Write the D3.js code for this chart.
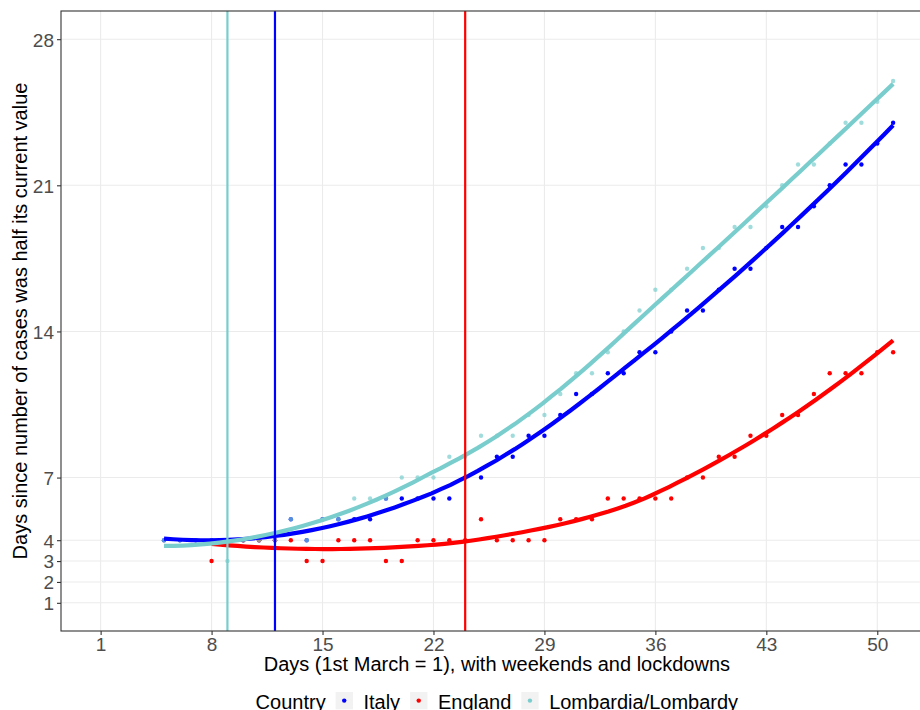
<!DOCTYPE html>
<html>
<head>
<meta charset="utf-8">
<script src="https://cdn.jsdelivr.net/npm/d3@7"></script>
<style>
  body { margin: 0; background: #fff; }
  svg { display: block; font-family: "Liberation Sans", Arial, sans-serif; }
</style>
</head>
<body>
<div id="chart"></div>
<script>
var svgWidth = 920;
var svgHeight = 710;

// panel edges (right edge falls outside the picture, like the original crop)
var margin = { top: 11, left: 61, bottom: 79 };
var panelRight = 932.75;

// Data: days since half value, per day (1st March = 1)
var italyDays = [5,6,7,8,9,10,11,12,13,14,15,16,17,18,19,20,21,22,23,24,25,26,27,28,29,30,31,32,33,34,35,36,37,38,39,40,41,42,43,44,45,46,47,48,49,50,51];
var italyValues = [4,4,4,4,4,4,4,4,5,4,5,5,5,5,6,6,6,6,6,7,7,8,8,9,9,10,11,11,12,12,13,13,14,15,15,16,17,17,18,19,19,20,21,22,22,23,24];

var englandDays = [8,9,10,11,12,13,14,15,16,17,18,19,20,21,22,23,24,25,26,27,28,29,30,31,32,33,34,35,36,37,38,39,40,41,42,43,44,45,46,47,48,49,50,51];
var englandValues = [3,4,4,4,4,4,3,3,4,4,4,3,3,4,4,4,4,5,4,4,4,4,5,5,5,6,6,6,6,6,7,7,8,8,9,9,10,10,11,12,12,12,13,13];

var lombardyDays = [5,6,7,8,9,10,11,12,13,14,15,16,17,18,19,20,21,22,23,24,25,26,27,28,29,30,31,32,33,34,35,36,37,38,39,40,41,42,43,44,45,46,47,48,49,50,51];
var lombardyValues = [4,4,4,4,3,4,4,4,5,4,5,5,6,6,6,7,7,7,8,8,9,9,9,10,10,11,12,12,13,14,15,16,16,17,18,18,19,19,20,21,22,22,23,24,24,25,26];

var countries = ["Italy", "England", "Lombardia/Lombardy"];
var countryColors = ["#0000ff", "#ff0000", "#79cdcd"];
var lockdownDays = [12, 24, 9];

var xTicks = [1, 8, 15, 22, 29, 36, 43, 50];
var yTicks = [1, 2, 3, 4, 7, 14, 21, 28];

var series = [
  { name: countries[0], color: countryColors[0], days: italyDays, values: italyValues, lockdown: lockdownDays[0], alpha: 1 },
  { name: countries[1], color: countryColors[1], days: englandDays, values: englandValues, lockdown: lockdownDays[1], alpha: 1 },
  { name: countries[2], color: countryColors[2], days: lombardyDays, values: lombardyValues, lockdown: lockdownDays[2], alpha: 0.7 }
];

// loess like geom_smooth (span 0.75, degree 2, tricube weights)
function loess(xs, ys, span, x0) {
  var n = xs.length;
  var q = Math.floor(n * span);
  var dist = xs.map(function(x) { return Math.abs(x - x0); });
  var h = dist.slice().sort(function(a, b) { return a - b; })[q - 1];
  var S = [[0,0,0],[0,0,0],[0,0,0]], B = [0,0,0];
  for (var i = 0; i < n; i++) {
    var u = dist[i] / h;
    if (u >= 1) continue;
    var w = Math.pow(1 - u * u * u, 3);
    var t = xs[i] - x0;
    var b = [1, t, t * t];
    for (var r = 0; r < 3; r++) {
      B[r] += w * b[r] * ys[i];
      for (var c = 0; c < 3; c++) S[r][c] += w * b[r] * b[c];
    }
  }
  // gaussian elimination
  for (var k = 0; k < 3; k++) {
    for (var r2 = k + 1; r2 < 3; r2++) {
      var f = S[r2][k] / S[k][k];
      for (var c2 = k; c2 < 3; c2++) S[r2][c2] -= f * S[k][c2];
      B[r2] -= f * B[k];
    }
  }
  var beta = [0,0,0];
  for (var k2 = 2; k2 >= 0; k2--) {
    var s = B[k2];
    for (var c3 = k2 + 1; c3 < 3; c3++) s -= S[k2][c3] * beta[c3];
    beta[k2] = s / S[k2][k2];
  }
  return beta[0];
}

function smoothCurve(d) {
  var lo = d3.min(d.days), hi = d3.max(d.days);
  var pts = [];
  for (var i = 0; i < 80; i++) {
    var x = lo + (hi - lo) * i / 79;
    pts.push([x, loess(d.days, d.values, 0.75, x)]);
  }
  return pts;
}

var svg = d3.select("#chart")
  .append("svg")
  .attr("width", svgWidth)
  .attr("height", svgHeight);

var panelBottom = svgHeight - margin.bottom;

var xScale = d3.scaleLinear()
  .domain([-1.5, 53.5])
  .range([margin.left, panelRight]);

var yScale = d3.scaleLinear()
  .domain([-0.35, 29.35])
  .range([panelBottom, margin.top]);

svg.append("clipPath")
  .attr("id", "panelClip")
  .append("rect")
  .attr("x", margin.left)
  .attr("y", margin.top)
  .attr("width", panelRight - margin.left)
  .attr("height", panelBottom - margin.top);

// grid
var grid = svg.append("g").attr("stroke", "#ebebeb").attr("stroke-width", 1.1);
grid.selectAll(".gx").data(xTicks).enter().append("line")
  .attr("x1", d => xScale(d)).attr("x2", d => xScale(d))
  .attr("y1", margin.top).attr("y2", panelBottom);
grid.selectAll(".gy").data(yTicks).enter().append("line")
  .attr("x1", margin.left).attr("x2", panelRight)
  .attr("y1", d => yScale(d)).attr("y2", d => yScale(d));

var plot = svg.append("g").attr("clip-path", "url(#panelClip)");

// points
series.forEach(function(s) {
  plot.append("g").selectAll("circle")
    .data(s.days.map((d, i) => [d, s.values[i]]))
    .enter()
    .append("circle")
    .attr("cx", d => xScale(d[0]))
    .attr("cy", d => yScale(d[1]))
    .attr("r", 2.2)
    .attr("fill", s.color)
    .attr("fill-opacity", s.alpha);
});

// smooth lines
var line = d3.line()
  .x(d => xScale(d[0]))
  .y(d => yScale(d[1]));

series.forEach(function(s) {
  plot.append("path")
    .attr("d", line(smoothCurve(s)))
    .attr("fill", "none")
    .attr("stroke", s.color)
    .attr("stroke-width", 4.2)
    .attr("stroke-linejoin", "round");
});

// lockdown lines
plot.selectAll(".vline")
  .data(series)
  .enter()
  .append("line")
  .attr("x1", d => xScale(d.lockdown)).attr("x2", d => xScale(d.lockdown))
  .attr("y1", margin.top).attr("y2", panelBottom)
  .attr("stroke", d => d.color)
  .attr("stroke-width", 2.2);

// panel border
svg.append("rect")
  .attr("x", margin.left).attr("y", margin.top)
  .attr("width", panelRight - margin.left)
  .attr("height", panelBottom - margin.top)
  .attr("fill", "none")
  .attr("stroke", "#333333")
  .attr("stroke-width", 1.1);

// axes
var bottomAxis = d3.axisBottom(xScale).tickValues(xTicks).tickSize(4).tickPadding(3);
var leftAxis = d3.axisLeft(yScale).tickValues(yTicks).tickSize(4).tickPadding(3);

var gx = svg.append("g")
  .attr("transform", `translate(0, ${panelBottom})`)
  .call(bottomAxis);
var gy = svg.append("g")
  .attr("transform", `translate(${margin.left}, 0)`)
  .call(leftAxis);

[gx, gy].forEach(function(g) {
  g.select(".domain").remove();
  g.selectAll(".tick line").attr("stroke", "#333333").attr("stroke-width", 1.1);
  g.selectAll(".tick text")
    .attr("fill", "#4d4d4d")
    .attr("font-size", "19px")
    .attr("font-family", "'Liberation Sans', Arial, sans-serif");
});
gy.selectAll(".tick text").attr("dy", "0.36em");

// axis titles
svg.append("text")
  .attr("x", (margin.left + panelRight) / 2)
  .attr("y", 671)
  .attr("text-anchor", "middle")
  .attr("font-size", "20px")
  .attr("fill", "#000")
  .text("Days (1st March = 1), with weekends and lockdowns");

svg.append("text")
  .attr("transform", `translate(27, ${(margin.top + panelBottom) / 2}) rotate(-90)`)
  .attr("text-anchor", "middle")
  .attr("font-size", "20px")
  .attr("fill", "#000")
  .text("Days since number of cases was half its current value");

// legend
var legend = svg.append("g");
var legendY = 709;
var title = legend.append("text")
  .attr("x", 0).attr("y", legendY)
  .attr("font-size", "20px")
  .text("Country");
var cursor = title.node().getComputedTextLength() + 10;
series.forEach(function(s) {
  legend.append("rect")
    .attr("x", cursor).attr("y", 692)
    .attr("width", 17.3).attr("height", 17.3)
    .attr("fill", "#f2f2f2");
  legend.append("circle")
    .attr("cx", cursor + 8.6).attr("cy", 700.6)
    .attr("r", 2.2)
    .attr("fill", s.color);
  cursor += 17.3 + 10.5;
  var t = legend.append("text")
    .attr("x", cursor).attr("y", legendY)
    .attr("font-size", "20px")
    .text(s.name);
  cursor += t.node().getComputedTextLength() + 10;
});
var legendWidth = cursor - 10;
legend.attr("transform", `translate(${(margin.left + panelRight) / 2 - legendWidth / 2}, 0)`);
</script>
</body>
</html>
